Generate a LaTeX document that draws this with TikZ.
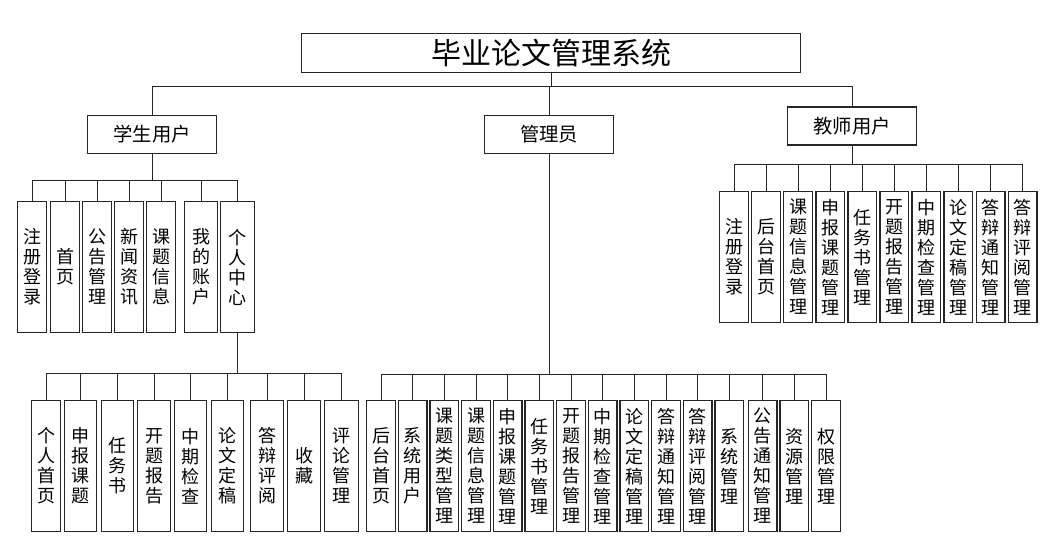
\documentclass[tikz,border=0pt]{standalone}
\usepackage{fontspec}
\setmainfont{Noto Sans CJK SC}
\usetikzlibrary{positioning}

\begin{document}
\begin{tikzpicture}[
  x=0.75pt, y=-0.75pt,
  node distance=1.5pt,
  titlebox/.style={draw=black!85, line width=1pt, minimum width=374pt, minimum height=29pt, inner sep=0pt, font=\fontsize{22.5}{24}\selectfont},
  rolebox/.style={draw=black!85, line width=1pt, minimum width=96.5pt, minimum height=28.5pt, inner sep=0pt, font=\fontsize{14.5}{16}\selectfont},
  leaf/.style={draw=black!85, line width=1pt, minimum width=21.5pt, minimum height=98pt, inner sep=0pt, align=center, font=\fontsize{13.5}{15}\selectfont},
  link/.style={draw=black!85, line width=0.75pt}
]
\useasboundingbox (0,0) rectangle (1064,552);

% top levels
\node[titlebox] (title) at (551,53) {毕业论文管理系统};
\node[rolebox] (stu) at (152,134.5) {学生用户};
\node[rolebox] (admin) at (549,134.5) {管理员};
\node[rolebox] (teach) at (852,126) {教师用户};

% student
\node[leaf, anchor=north west] (szc) at (17,201) {注\\册\\登\\录};
\node[leaf, right=2.25pt of szc] (ssy) {首\\页};
\node[leaf, right=of ssy] (sgg) {公\\告\\管\\理};
\node[leaf, right=of sgg] (sxw) {新\\闻\\资\\讯};
\node[leaf, right=of sxw] (skt) {课\\题\\信\\息};
\node[leaf, right=6pt of skt, minimum width=24.5pt] (szh) {我\\的\\账\\户};
\node[leaf, right=of szh, minimum width=25.25pt] (sgr) {个\\人\\中\\心};

% personal centre
\node[leaf, anchor=north west] (psy) at (31,400) {个\\人\\首\\页};
\node[leaf, right=2.25pt of psy, minimum width=23.75pt] (psb) {申\\报\\课\\题};
\node[leaf, right=3pt of psb, minimum width=23.75pt] (prw) {任\\务\\书};
\node[leaf, right=2.25pt of prw, minimum width=24.5pt] (pkt) {开\\题\\报\\告};
\node[leaf, right=2.25pt of pkt, minimum width=23.75pt] (pzq) {中\\期\\检\\查};
\node[leaf, right=3pt of pzq, minimum width=23.75pt] (plw) {论\\文\\定\\稿};
\node[leaf, right=4.5pt of plw, minimum width=24.5pt] (pdb) {答\\辩\\评\\阅};
\node[leaf, right=2.25pt of pdb, minimum width=24.5pt] (psc) {收\\藏};
\node[leaf, right=2.25pt of psc, minimum width=25.25pt] (ppl) {评\\论\\管\\理};

% admin
\begin{scope}[node distance=1.25pt]
\node[leaf, anchor=north west] (aht) at (366,400) {后\\台\\首\\页};
\node[leaf, right=of aht] (axy) {系\\统\\用\\户};
\node[leaf, right=of axy] (alx) {课\\题\\类\\型\\管\\理};
\node[leaf, right=of alx] (akt) {课\\题\\信\\息\\管\\理};
\node[leaf, right=of akt] (asb) {申\\报\\课\\题\\管\\理};
\node[leaf, right=of asb] (arw) {任\\务\\书\\管\\理};
\node[leaf, right=of arw] (abg) {开\\题\\报\\告\\管\\理};
\node[leaf, right=of abg] (azq) {中\\期\\检\\查\\管\\理};
\node[leaf, right=of azq] (alw) {论\\文\\定\\稿\\管\\理};
\node[leaf, right=of alw] (atz) {答\\辩\\通\\知\\管\\理};
\node[leaf, right=of atz] (apy) {答\\辩\\评\\阅\\管\\理};
\node[leaf, right=of apy] (axt) {系\\统\\管\\理};
\node[leaf, right=2.5pt of axt] (agg) {公\\告\\通\\知\\管\\理};
\node[leaf, right=of agg] (azy) {资\\源\\管\\理};
\node[leaf, right=of azy] (aqx) {权\\限\\管\\理};
\end{scope}

% teacher
\begin{scope}[node distance=1.55pt]
\node[leaf, anchor=north west] (tzc) at (719,191) {注\\册\\登\\录};
\node[leaf, right=of tzc] (tht) {后\\台\\首\\页};
\node[leaf, right=of tht] (tkt) {课\\题\\信\\息\\管\\理};
\node[leaf, right=of tkt] (tsb) {申\\报\\课\\题\\管\\理};
\node[leaf, right=of tsb] (trw) {任\\务\\书\\管\\理};
\node[leaf, right=of trw] (tbg) {开\\题\\报\\告\\管\\理};
\node[leaf, right=of tbg] (tzq) {中\\期\\检\\查\\管\\理};
\node[leaf, right=of tzq] (tlw) {论\\文\\定\\稿\\管\\理};
\node[leaf, right=of tlw] (ttz) {答\\辩\\通\\知\\管\\理};
\node[leaf, right=of ttz] (tpy) {答\\辩\\评\\阅\\管\\理};
\end{scope}

% connectors
\foreach \c in {stu,admin,teach}
  \draw[link] (title.south) -- ++(0,14) -| (\c.north);
\foreach \c in {szc,ssy,sgg,sxw,skt,szh,sgr}
  \draw[link] (stu.south) -- ++(0,26) -| (\c.north);
\foreach \c in {psy,psb,prw,pkt,pzq,plw,pdb,psc,ppl}
  \draw[link] (sgr.south) -- ++(0,40) -| (\c.north);
\foreach \c in {aht,axy,alx,akt,asb,arw,abg,azq,alw,atz,apy,axt,agg,azy,aqx}
  \draw[link] (admin.south) -- ++(0,220) -| (\c.north);
\foreach \c in {tzc,tht,tkt,tsb,trw,tbg,tzq,tlw,ttz,tpy}
  \draw[link] (teach.south) -- ++(0,19) -| (\c.north);
\end{tikzpicture}
\end{document}
